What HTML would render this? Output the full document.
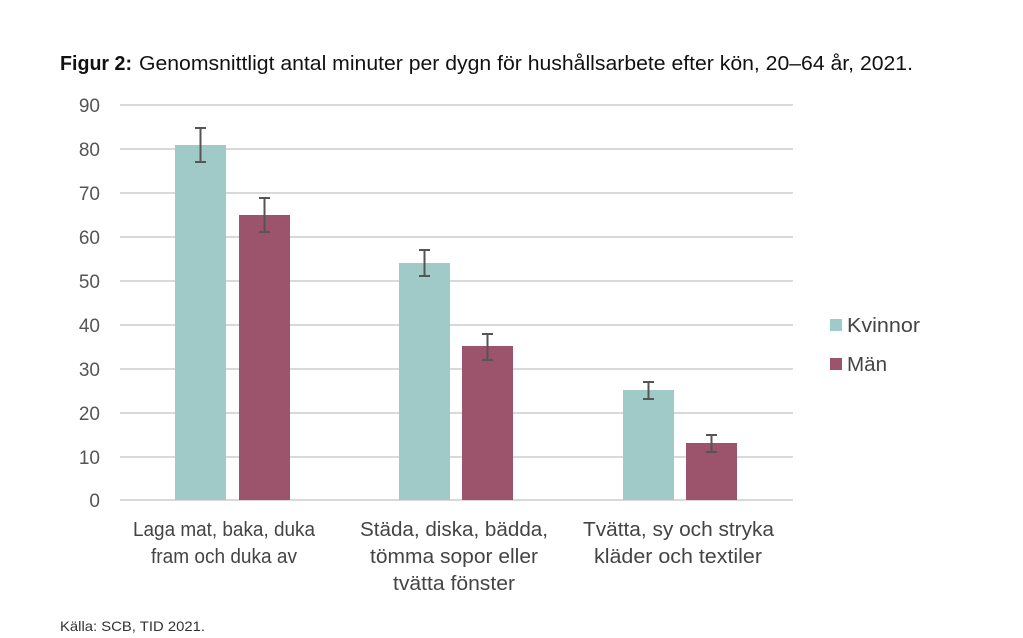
<!DOCTYPE html>
<html><head><meta charset="utf-8"><style>
html,body{margin:0;padding:0;background:#fff;}
svg{display:block;font-family:"Liberation Sans",sans-serif;}
</style></head><body>
<svg width="1023" height="638" viewBox="0 0 1023 638" xmlns="http://www.w3.org/2000/svg">
<text x="60" y="70" font-size="20" fill="#111" font-weight="bold" textLength="72" lengthAdjust="spacingAndGlyphs">Figur 2:</text>
<text x="139" y="70" font-size="20" fill="#111" textLength="774" lengthAdjust="spacingAndGlyphs">Genomsnittligt antal minuter per dygn för hushållsarbete efter kön, 20–64 år, 2021.</text>
<g stroke="#d9d9d9" stroke-width="2">
<line x1="120" x2="793" y1="105" y2="105"/><line x1="120" x2="793" y1="149" y2="149"/>
<line x1="120" x2="793" y1="193" y2="193"/><line x1="120" x2="793" y1="237" y2="237"/>
<line x1="120" x2="793" y1="281" y2="281"/><line x1="120" x2="793" y1="325" y2="325"/>
<line x1="120" x2="793" y1="369" y2="369"/><line x1="120" x2="793" y1="413" y2="413"/>
<line x1="120" x2="793" y1="457" y2="457"/><line x1="120" x2="793" y1="500" y2="500"/>
</g>
<g font-size="19" fill="#555" text-anchor="end">
<text x="100" y="112">90</text><text x="100" y="156">80</text><text x="100" y="200">70</text>
<text x="100" y="244">60</text><text x="100" y="288">50</text><text x="100" y="332">40</text>
<text x="100" y="376">30</text><text x="100" y="420">20</text><text x="100" y="464">10</text>
<text x="100" y="507">0</text>
</g>
<g fill="#9fcac8">
<rect x="175" y="145" width="51" height="355"/>
<rect x="399" y="263" width="51" height="237"/>
<rect x="623" y="390" width="51" height="110"/>
</g>
<g fill="#9b546b">
<rect x="239" y="215" width="51" height="285"/>
<rect x="462" y="346" width="51" height="154"/>
<rect x="686" y="443" width="51" height="57"/>
</g>
<g stroke="#555" stroke-width="2" fill="none">
<path d="M200.5 128V162M195 128h11M195 162h11"/>
<path d="M264.5 198V232M259 198h11M259 232h11"/>
<path d="M424.5 250V276M419 250h11M419 276h11"/>
<path d="M487.5 334V360M482 334h11M482 360h11"/>
<path d="M648.5 382V399M643 382h11M643 399h11"/>
<path d="M711.5 435V452M706 435h11M706 452h11"/>
</g>
<rect x="830" y="319" width="12" height="12" fill="#9fcac8"/>
<rect x="830" y="358" width="12" height="12" fill="#9b546b"/>
<g font-size="20" fill="#444">
<text x="847" y="332" textLength="73" lengthAdjust="spacingAndGlyphs">Kvinnor</text>
<text x="847" y="371" textLength="40" lengthAdjust="spacingAndGlyphs">Män</text>
</g>
<g font-size="20" fill="#444">
<text x="133" y="536" textLength="182" lengthAdjust="spacingAndGlyphs">Laga mat, baka, duka</text>
<text x="151" y="563" textLength="146" lengthAdjust="spacingAndGlyphs">fram och duka av</text>
<text x="360" y="536" textLength="188" lengthAdjust="spacingAndGlyphs">Städa, diska, bädda,</text>
<text x="370" y="563" textLength="168" lengthAdjust="spacingAndGlyphs">tömma sopor eller</text>
<text x="393" y="590" textLength="122" lengthAdjust="spacingAndGlyphs">tvätta fönster</text>
<text x="583" y="536" textLength="191" lengthAdjust="spacingAndGlyphs">Tvätta, sy och stryka</text>
<text x="594" y="563" textLength="168" lengthAdjust="spacingAndGlyphs">kläder och textiler</text>
</g>
<text x="60" y="631" font-size="14" fill="#333" textLength="145" lengthAdjust="spacingAndGlyphs">Källa: SCB, TID 2021.</text>
</svg>
</body></html>
